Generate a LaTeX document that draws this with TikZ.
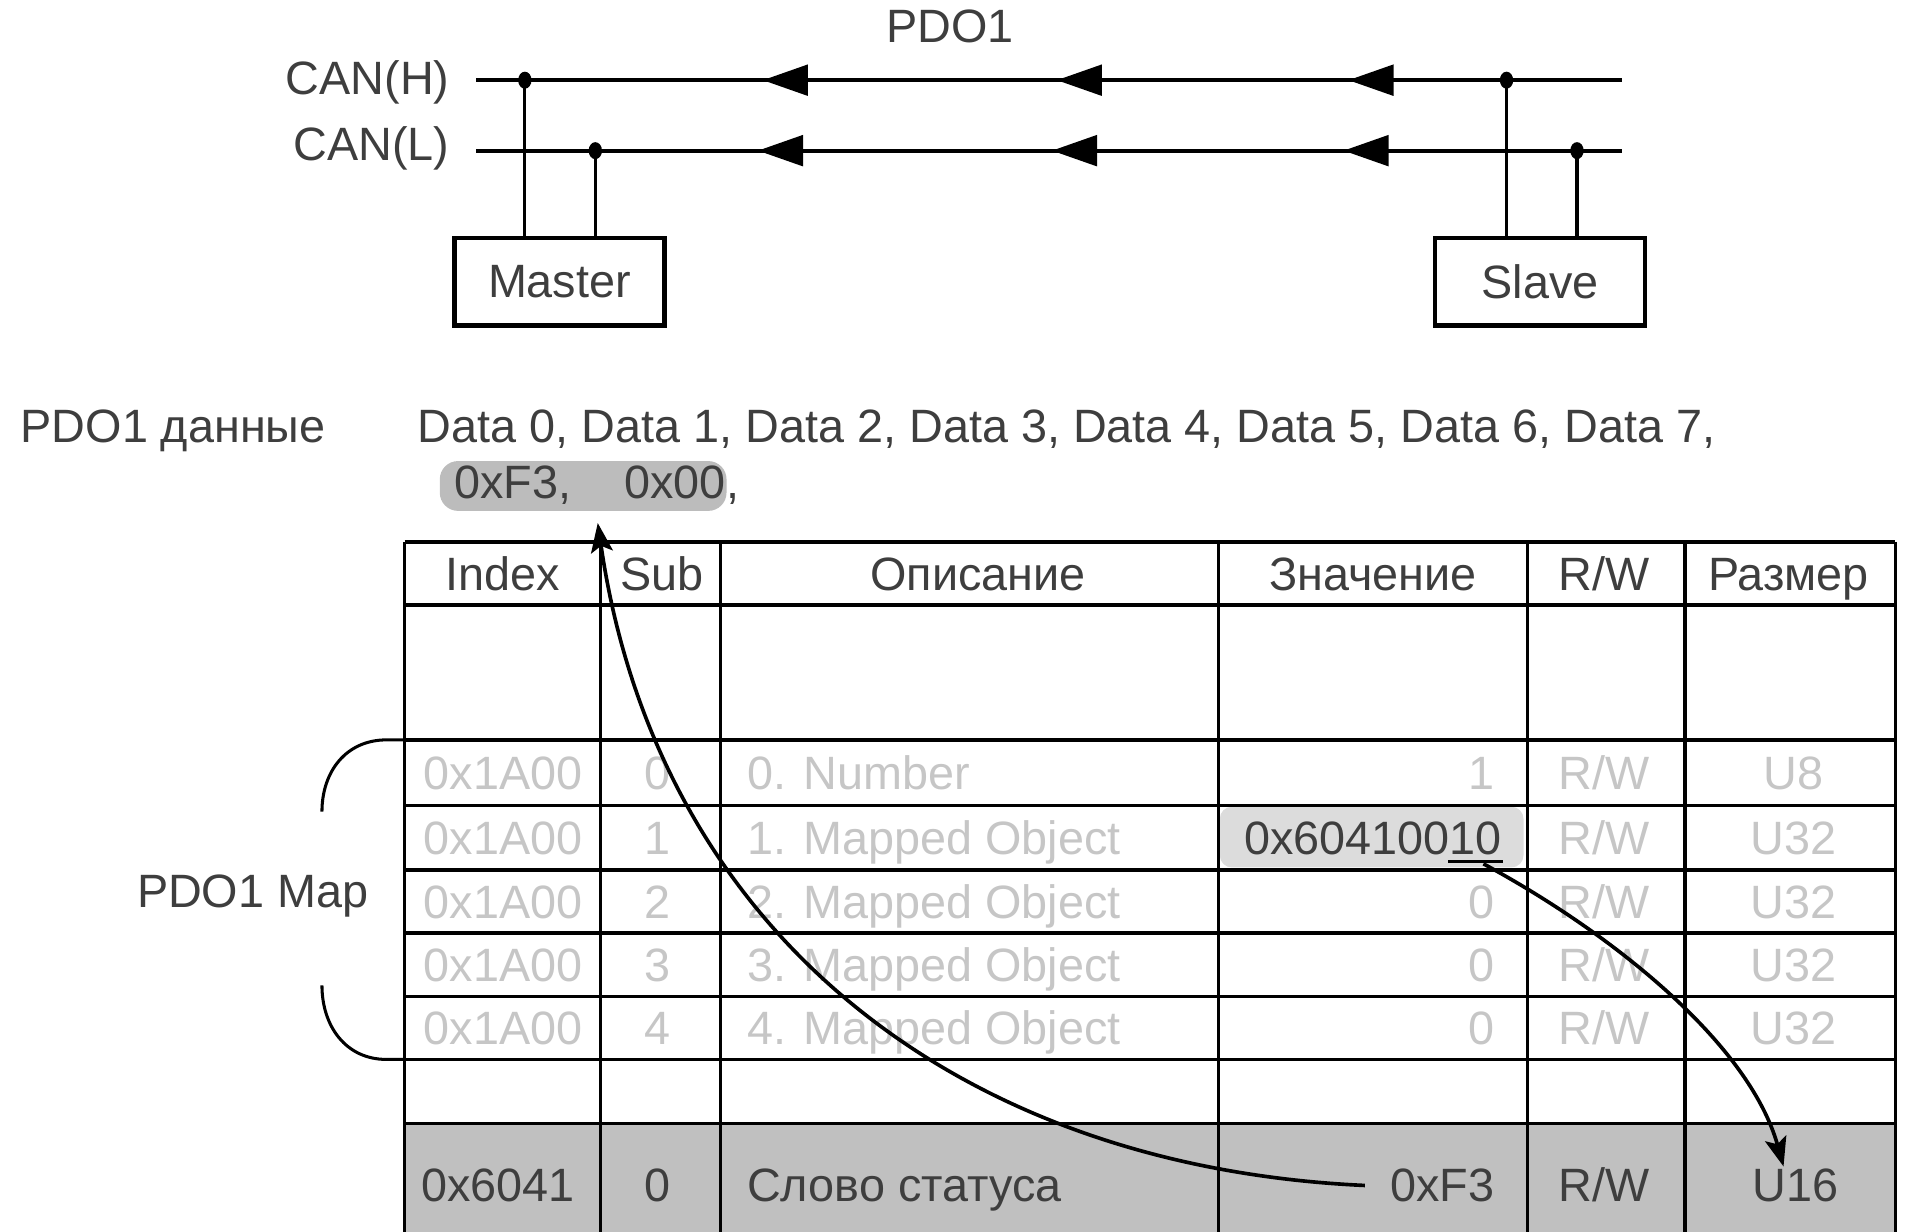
\documentclass[tikz,border=0pt]{standalone}
\usepackage{fontspec}
\setmainfont{Liberation Sans}
\usetikzlibrary{arrows.meta}
\definecolor{txt}{HTML}{3E3E3E}
\definecolor{faded}{HTML}{C6C6C6}
\definecolor{rowgray}{HTML}{C0C0C0}
\definecolor{hldark}{HTML}{BCBCBC}
\definecolor{hllight}{HTML}{DCDCDC}
\begin{document}
\begin{tikzpicture}[x=1pt,y=-1pt,
  every node/.style={inner sep=0pt, outer sep=0pt, font=\fontsize{38.5}{44}\selectfont, text=txt},
  lbl/.style={anchor=base},
  lblw/.style={anchor=base west},
  lble/.style={anchor=base east},
  fd/.style={text=faded},
  bus/.style={line width=3.3pt},
  stub/.style={line width=2.5pt},
  devbox/.style={draw, line width=3.5pt, minimum width=173pt, minimum height=72pt},
  grid/.style={line width=2.7pt},
  flow/.style={line width=3pt, -{Stealth[length=24pt,width=18pt,inset=5pt]}},
  brace/.style={line width=2.5pt}]
\useasboundingbox (0,0) rectangle (1568,1014);

% ---------- bus ----------
\node[lbl] (pdo) at (782,35) {PDO1};
\node[lble] (canh) at (370,78) {CAN(H)};
\node[lble] (canl) at (370,132) {CAN(L)};
\coordinate (h0) at (392,66);  \coordinate (h1) at (1335,66);
\coordinate (l0) at (392,124); \coordinate (l1) at (1335,124);
\draw[bus] (h0) -- (h1);
\draw[bus] (l0) -- (l1);
\foreach \t in {628,870,1110}{\fill (\t,66) -- (\t+37,53) -- (\t+37,79) -- cycle;}
\foreach \t in {624,866,1106}{\fill (\t,124) -- (\t+37,111) -- (\t+37,137) -- cycle;}

\node[devbox] (master) at (460.5,232) {Master};
\node[devbox] (slave) at (1267.5,232) {Slave};

\coordinate (mh) at (432,66);  \coordinate (ml) at (490,124);
\coordinate (sh) at (1240,66); \coordinate (sl) at (1298,124);
\draw[stub] (mh) -- (mh |- master.north);
\draw[stub] (ml) -- (ml |- master.north);
\draw[stub] (sh) -- (sh |- slave.north);
\draw[stub] (sl) -- (sl |- slave.north);
\foreach \c in {mh,ml,sh,sl}{\fill (\c) ellipse [x radius=5.5pt, y radius=7pt];}

% ---------- PDO data ----------
\node[lblw] (pdodata) at (17,364) {PDO1 данные};
\node[lblw] (datas) at (344,364) {Data 0, Data 1, Data 2, Data 3, Data 4, Data 5, Data 6, Data 7,};
\node[fill=hldark, rounded corners=15pt, minimum width=236pt, minimum height=41pt] (hl1) at (480,400) {};
\node[lblw] (d0) at (374,410) {0xF3,};
\node[lblw] (d1) at (514,410) {0x00};
\node[lblw] (d2) at (598,410) {,};

% ---------- table ----------
\fill[rowgray] (333,925) rectangle (1560,1014);
\node[fill=hllight, rounded corners=10pt, minimum width=250pt, minimum height=50pt] (hl2) at (1129,689) {};
\foreach \yy in {446,498,609,663,716,768,820,872,925}{\draw[grid] (333,\yy) -- (1560,\yy);}
\foreach \xx in {333,494,593,1003,1257,1387,1560}{\draw[grid] (\xx,446) -- (\xx,1014);}

% header
\node[lbl] (hidx) at (414,486) {Index};
\node[lbl] (hsub) at (545,486) {Sub};
\node[lbl] (hdesc) at (805,486) {Описание};
\node[lbl] (hval) at (1130,486) {Значение};
\node[lbl] (hrw) at (1320,486) {R/W};
\node[lbl] (hsize) at (1472,486) {Размер};

% faded rows
\foreach \yb/\s/\d/\sz [count=\i] in {650/0/0. Number/U8, 703/1/1. Mapped Object/U32, 756/2/2. Mapped Object/U32, 808/3/3. Mapped Object/U32, 860/4/4. Mapped Object/U32}{
  \node[lbl,fd] (idx\i) at (414,\yb) {0x1A00};
  \node[lbl,fd] (sub\i) at (541,\yb) {\s};
  \node[lblw,fd] (desc\i) at (615,\yb) {\d};
  \node[lbl,fd] (rw\i) at (1320,\yb) {R/W};
  \node[lbl,fd] (sz\i) at (1476,\yb) {\sz};
}
\node[lble,fd] (val1) at (1230,650) {1};
\node[lble] (val2) at (1236,703) {0x60410010};
\node[lble,fd] (val3) at (1230,756) {0};
\node[lble,fd] (val4) at (1230,808) {0};
\node[lble,fd] (val5) at (1230,860) {0};
\draw[line width=2pt] (1192,709) -- (1237,709);
\coordinate (ul) at (1221,711);

% status row
\node[lbl] (sidx) at (410,989) {0x6041};
\node[lbl] (ssub) at (541,989) {0};
\node[lblw] (sdesc) at (615,989) {Слово статуса};
\node[lble] (sval) at (1230,989) {0xF3};
\node[lbl] (srw) at (1320,989) {R/W};
\node[lbl] (ssz) at (1478,989) {U16};

% ---------- PDO1 Map brace ----------
\node[lbl] (pmap) at (208,747) {PDO1 Map};
\draw[brace] (333,609) -- (318,609) .. controls (285,609) and (265,635) .. (265,668);
\draw[brace] (265,811) .. controls (265,845) and (285,872) .. (318,872) -- (333,872);

% ---------- flow arrows ----------
\draw[flow] ([xshift=-21pt]sval.west) .. controls (780,960) and (540,760) .. ([xshift=12pt,yshift=-10pt]hl1.south);
\draw[flow] (ul) .. controls (1330,770) and (1440,860) .. ([xshift=-10pt,yshift=2pt]ssz.north);
\end{tikzpicture}
\end{document}
